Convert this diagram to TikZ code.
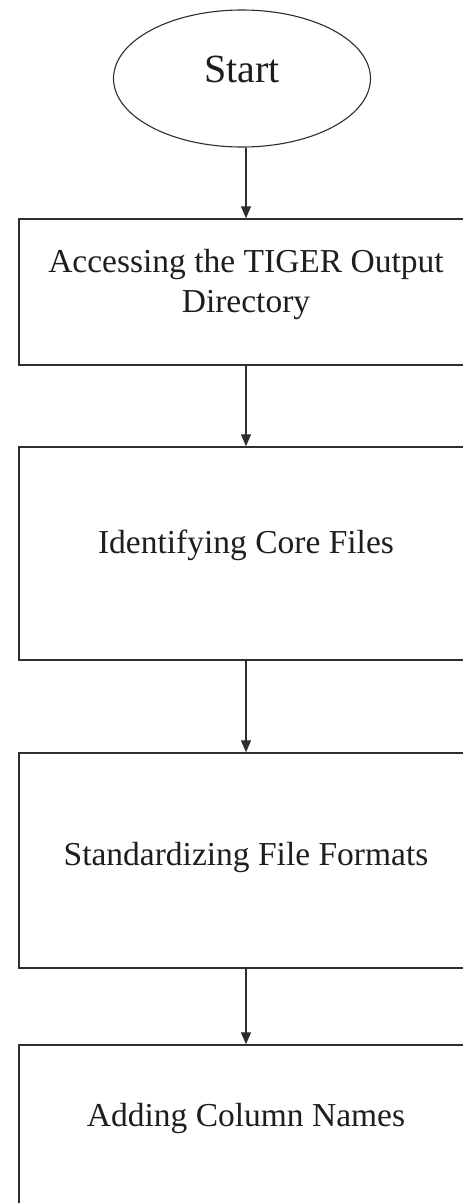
\documentclass[tikz,border=0pt]{standalone}
\usepackage{fontspec}
\setmainfont{Liberation Serif}
\usetikzlibrary{arrows.meta,shapes.geometric}

\definecolor{inkline}{HTML}{2E2E2E}
\definecolor{inktext}{HTML}{1E1E1E}

% text placed at a given baseline offset from the node centre
\newcommand{\shifted}[2]{\raisebox{#1}[0pt][0pt]{#2}}

\tikzset{
  startnode/.style={ellipse, draw=inkline, line width=1.1pt,
    minimum width=257pt, minimum height=137pt, inner sep=0pt,
    text=inktext, font=\fontsize{40}{46}\selectfont},
  stepbox/.style={rectangle, draw=inkline, line width=1.4pt,
    minimum width=454pt, inner sep=0pt, text=inktext,
    align=center, font=\fontsize{33.5}{40}\selectfont},
  flowarrow/.style={draw=inkline, line width=1.3pt,
    -{Triangle[length=12pt,width=10pt]}}
}

\begin{document}
\begin{tikzpicture}[x=1pt,y=-1pt]
  \useasboundingbox (0,0) rectangle (463,1203);
  \clip (0,0) rectangle (463,1203);
  \fill[white] (0,0) rectangle (463,1203);

  % start terminal
  \node[startnode] (start) at (242,78.5) {\shifted{-3.5pt}{Start}};

  % process steps
  \node[stepbox, minimum height=146pt] (access) at (246,292)
    {\shifted{20pt}{\begin{tabular}[t]{@{}c@{}}Accessing the TIGER Output\\Directory\end{tabular}}};
  \node[stepbox, minimum height=213pt] (identify) at (246,553.5)
    {\shifted{0pt}{Identifying Core Files}};
  \node[stepbox, minimum height=215pt] (standardize) at (246,860.5)
    {\shifted{-4.5pt}{Standardizing File Formats}};
  \node[stepbox, minimum height=213pt] (addcols) at (246,1151.5)
    {\shifted{25pt}{Adding Column Names}};

  % connectors
  \draw[flowarrow] (start.south -| access.north) -- (access.north);
  \draw[flowarrow] (access.south) -- (identify.north);
  \draw[flowarrow] (identify.south) -- (standardize.north);
  \draw[flowarrow] (standardize.south) -- (addcols.north);
\end{tikzpicture}
\end{document}
